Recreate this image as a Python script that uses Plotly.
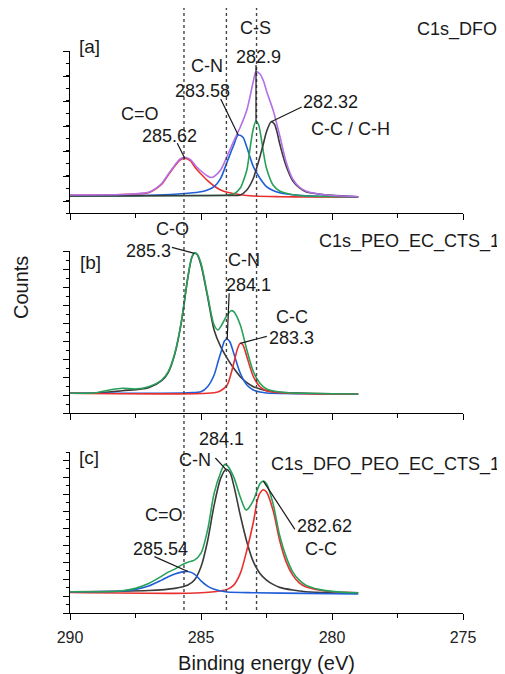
import plotly.graph_objects as go

# the page places the figure 8 px in from the window's top-left corner
OFF = 8
W, H = 505 - OFF, 674 - OFF

# ---------------- panel [a]  C1s_DFO ----------------
a_env_x = [290, 288, 287.5, 287, 286.75, 286.5, 286.25, 286, 285.8, 285.62, 285.4, 285.2, 285, 284.75,
           284.62, 284.5, 284.25, 284, 283.75, 283.5, 283.25, 283, 282.9, 282.75, 282.6, 282.5, 282.25,
           282, 281.75, 281.5, 281.25, 281, 280.5, 280, 279]
a_env_y = [1800, 1850, 1920, 2070, 2420, 2950, 3880, 4780, 5400, 5570, 5330, 4700, 4200, 3700,
           3550, 3650, 4300, 5700, 7200, 8600, 10300, 13200, 14130, 13900, 13100, 12200, 10300,
           7800, 5100, 3400, 2600, 2200, 1900, 1750, 1630]

a_co_x = [290, 288, 287.5, 287, 286.75, 286.5, 286.25, 286, 285.8, 285.62, 285.4, 285.2, 285, 284.75,
          284.5, 284.25, 284, 283.5, 283, 282, 281, 279]
a_co_y = [1770, 1840, 1900, 2030, 2370, 2870, 3800, 4700, 5300, 5470, 5200, 4470, 3900, 3230,
          2700, 2300, 2070, 1830, 1700, 1630, 1600, 1570]

a_cn_x = [290, 288, 287, 286, 285.5, 285, 284.75, 284.5, 284.25, 284, 283.75, 283.58, 283.4, 283.25,
          283, 282.75, 282.5, 282.25, 282, 281.5, 281, 280, 279]
a_cn_y = [1700, 1720, 1780, 1880, 1980, 2130, 2300, 2630, 3470, 5130, 6800, 7800, 7570, 6570,
          4630, 3470, 2630, 2250, 2030, 1830, 1730, 1670, 1630]

a_cs_x = [290, 285, 284, 283.75, 283.5, 283.4, 283.25, 283.1, 283, 282.9, 282.8, 282.7, 282.6, 282.5,
          282.25, 282, 281.75, 281.5, 281, 279]
a_cs_y = [1700, 1750, 1800, 1900, 2500, 3100, 4300, 6970, 8470, 9200, 8800, 7470, 5800, 4470,
          2800, 2200, 1970, 1830, 1700, 1630]

a_cc_x = [290, 284, 283.5, 283.25, 283, 282.9, 282.75, 282.6, 282.5, 282.32, 282.2, 282.1, 282,
          281.75, 281.5, 281.25, 281, 280.5, 280, 279]
a_cc_y = [1700, 1750, 1800, 2300, 3470, 4300, 5630, 7130, 8130, 9130, 8900, 8130, 6970,
          4700, 3230, 2530, 2130, 1900, 1770, 1630]

# ---------------- panel [b]  C1s_PEO_EC_CTS_1 ----------------
b_env_x = [290, 289, 288.5, 288, 287.5, 287, 286.5, 286.25, 286, 285.75, 285.5, 285.35, 285.25, 285.15,
           285, 284.75, 284.5, 284.35, 284.25, 284, 283.85, 283.75, 283.5, 283.25, 283, 282.75, 282.5,
           282, 281.5, 281, 280, 279]
b_env_y = [1970, 2030, 2300, 2470, 2400, 2630, 3300, 4130, 5970, 9130, 13630, 15600, 16000, 15900,
           14970, 11800, 8800, 8300, 8630, 9800, 10230, 10130, 8800, 6300, 4130, 2970, 2400,
           2100, 2000, 1970, 1930, 1900]

b_co_x = [290, 289, 288, 287, 286.5, 286.25, 286, 285.75, 285.5, 285.35, 285.25, 285.15, 285, 284.75,
          284.5, 284.25, 284, 283.75, 283.5, 283.25, 283, 282.75, 282.5, 282, 281, 279]
b_co_y = [1970, 2000, 2230, 2530, 3230, 4050, 5900, 9070, 13570, 15550, 15970, 15850, 14800, 11630,
          8300, 6630, 5470, 4470, 3630, 3030, 2630, 2400, 2230, 2070, 1970, 1900]

b_cn_x = [290, 285.5, 285, 284.75, 284.5, 284.35, 284.25, 284.1, 284, 283.9, 283.75, 283.5, 283.25,
          283, 282.75, 282.5, 281, 279]
b_cn_y = [1970, 2030, 2130, 2630, 3800, 5130, 5970, 7230, 7370, 7130, 5970, 3970, 2800,
          2300, 2100, 2000, 1930, 1900]

b_cc_x = [290, 284.5, 284.25, 284, 283.85, 283.75, 283.6, 283.5, 283.4, 283.25, 283, 282.75, 282.5,
          282, 281, 279]
b_cc_y = [1970, 2030, 2230, 2800, 3970, 4970, 6470, 6970, 6800, 5630, 3630, 2630, 2230,
          2030, 1930, 1900]

# ---------------- panel [c]  C1s_DFO_PEO_EC_CTS_1 ----------------
c_env_x = [290, 288.5, 288, 287.5, 287, 286.5, 286.25, 286, 285.75, 285.5, 285.25, 285, 284.75, 284.5,
           284.25, 284.1, 284, 283.75, 283.5, 283.3, 283.25, 283, 282.75, 282.62, 282.5, 282.25, 282,
           281.75, 281.5, 281.25, 281, 280.5, 280, 279.5, 279]
c_env_y = [2130, 2150, 2230, 2470, 2950, 3700, 4100, 4400, 4800, 5100, 5300, 6000, 8300, 12000,
           14100, 14900, 14800, 13630, 11630, 10370, 10350, 11300, 12970, 13230, 12970, 10970, 7800,
           5630, 4130, 3300, 2800, 2370, 2170, 2070, 2030]

c_cn_x = [290, 287, 286, 285.5, 285.25, 285, 284.75, 284.5, 284.25, 284.05, 283.9, 283.75, 283.5,
          283.25, 283, 282.75, 282.5, 282.25, 282, 281.5, 281, 280, 279]
c_cn_y = [2130, 2250, 2470, 2800, 3300, 4630, 7200, 10800, 13500, 14400, 14130, 12800, 9800,
          7130, 5130, 3970, 3300, 2870, 2570, 2300, 2130, 2030, 2000]

c_cc_x = [290, 286, 285, 284.5, 284, 283.75, 283.5, 283.25, 283, 282.85, 282.75, 282.62, 282.5,
          282.25, 282, 281.75, 281.5, 281.25, 281, 280.5, 280, 279.5, 279]
c_cc_y = [2050, 1970, 2030, 2130, 2370, 2800, 3970, 6300, 9130, 11300, 12030, 12370, 12130,
          10300, 7300, 5130, 3800, 3030, 2630, 2300, 2130, 2070, 2030]

c_co_x = [290, 288, 287.5, 287, 286.5, 286.25, 286, 285.75, 285.5, 285.25, 285, 284.75, 284.5,
          284.25, 284, 283, 281, 279]
c_co_y = [2130, 2200, 2370, 2700, 3300, 3630, 3900, 4100, 4170, 3900, 3230, 2700, 2370,
          2200, 2100, 2030, 1970, 1900]

# reference (dotted) lines, eV
ref_lines = [285.65, 284.03, 282.88]

x_ticks = [290, 285, 280, 275]

RED = '#e8312f'
BLUE = '#1f5ed8'
GREEN = '#27a05a'
BLACK = '#3a3a3a'
PURPLE = '#b46ee6'
FONT = 'Liberation Sans, Arial, sans-serif'
TXT = '#1a1a1a'

fig = go.Figure()


def add(xs, ys, color, xa, ya):
    fig.add_trace(go.Scatter(x=xs, y=ys, mode='lines',
                             line=dict(color=color, width=1.6, shape='spline', smoothing=0.8),
                             xaxis=xa, yaxis=ya, showlegend=False, hoverinfo='skip'))


add(a_co_x, a_co_y, RED, 'x', 'y')
add(a_cn_x, a_cn_y, BLUE, 'x', 'y')
add(a_cs_x, a_cs_y, GREEN, 'x', 'y')
add(a_cc_x, a_cc_y, BLACK, 'x', 'y')
add(a_env_x, a_env_y, PURPLE, 'x', 'y')

add(b_co_x, b_co_y, BLACK, 'x2', 'y2')
add(b_cn_x, b_cn_y, BLUE, 'x2', 'y2')
add(b_cc_x, b_cc_y, RED, 'x2', 'y2')
add(b_env_x, b_env_y, GREEN, 'x2', 'y2')

add(c_cn_x, c_cn_y, BLACK, 'x3', 'y3')
add(c_cc_x, c_cc_y, RED, 'x3', 'y3')
add(c_co_x, c_co_y, BLUE, 'x3', 'y3')
add(c_env_x, c_env_y, GREEN, 'x3', 'y3')


def px_x(px):
    return (px - OFF) / W


def px_y(py):
    return 1 - (py - OFF) / H


def peak(xs, ys):
    i = ys.index(max(ys))
    return xs[i], ys[i]


ann = []
LS = 18


def label(text, xr, yr, pt, dx, up, size=LS):
    ann.append(dict(text=text, xref=xr, yref=yr, x=pt[0], y=pt[1], xshift=dx, yshift=up,
                    showarrow=False, xanchor='center', yanchor='middle',
                    font=dict(family=FONT, size=size, color=TXT)))


def leader(xr, yr, pt, dx, up):
    ann.append(dict(text=' ', xref=xr, yref=yr, x=pt[0], y=pt[1], ax=dx, ay=-up,
                    showarrow=True, arrowhead=0, arrowwidth=1.2, arrowcolor=TXT,
                    standoff=0, startstandoff=0, borderpad=0, font=dict(size=1)))


# panel a
p = peak(a_co_x, a_co_y)
label('C=O', 'x', 'y', p, -45, 44); label('285.62', 'x', 'y', p, -15, 22); leader('x', 'y', p, -8, 16)
p = peak(a_cn_x, a_cn_y)
label('C-N', 'x', 'y', p, -31, 69); label('283.58', 'x', 'y', p, -36, 44); leader('x', 'y', p, -18, 37)
p = peak(a_cs_x, a_cs_y)
label('C-S', 'x', 'y', p, -1, 93); label('282.9', 'x', 'y', p, 2, 64); leader('x', 'y', p, 0, 57)
p = peak(a_cc_x, a_cc_y)
label('282.32', 'x', 'y', p, 59, 20); label('C-C / C-H', 'x', 'y', p, 79, -7); leader('x', 'y', p, 31, 15)

# panel b
p = peak(b_co_x, b_co_y)
label('C-O', 'x2', 'y2', p, -22, 24); label('285.3', 'x2', 'y2', p, -46, 2); leader('x2', 'y2', p, -23, 6)
p = peak(b_cn_x, b_cn_y)
label('C-N', 'x2', 'y2', p, 17, 79); label('284.1', 'x2', 'y2', p, 21, 54); leader('x2', 'y2', p, 2, 47)
p = peak(b_cc_x, b_cc_y)
label('C-C', 'x2', 'y2', p, 52, 26); label('283.3', 'x2', 'y2', p, 51, 5); leader('x2', 'y2', p, 27, 7)

# panel c
p = peak(c_cn_x, c_cn_y)
label('284.1', 'x3', 'y3', p, -4, 30); label('C-N', 'x3', 'y3', p, -31, 9); leader('x3', 'y3', p, -11, 12)
rx, _ = peak(c_cc_x, c_cc_y)
p = (rx, c_env_y[c_env_x.index(rx)])
label('282.62', 'x3', 'y3', p, 61, -45); label('C-C', 'x3', 'y3', p, 58, -68); leader('x3', 'y3', p, 32, -49)
p = peak(c_co_x, c_co_y)
label('C=O', 'x3', 'y3', p, -24, 56); label('285.54', 'x3', 'y3', p, -27, 22); leader('x3', 'y3', p, -34, 15)


# panel names and the shared y title
def paper_text(text, px, py, xanchor='center', size=LS, angle=0):
    ann.append(dict(text=text, xref='paper', yref='paper', x=px_x(px), y=px_y(py),
                    showarrow=False, xanchor=xanchor, yanchor='middle', textangle=angle,
                    font=dict(family=FONT, size=size, color=TXT)))


paper_text('[a]', 77, 46, 'left', size=19)
paper_text('C1s_DFO', 457, 29)
paper_text('[b]', 78, 263, 'left', size=19)
paper_text('C1s_PEO_EC_CTS_1', 502, 241, 'right')
paper_text('[c]', 77, 457, 'left', size=19)
paper_text('C1s_DFO_PEO_EC_CTS_1', 502, 464, 'right')
paper_text('Counts', 21, 288, size=20, angle=-90)

shapes = [dict(type='line', xref='x', yref='paper', x0=v, x1=v, y0=px_y(610), y1=px_y(8),
               line=dict(color='#444444', width=1.4, dash='dot'), layer='above')
          for v in ref_lines]

xdom = [px_x(70), px_x(463)]


def xaxis(anchor, labels):
    return dict(domain=xdom, anchor=anchor, range=[290, 275], autorange=False,
                tickmode='array', tickvals=x_ticks, showticklabels=labels,
                ticks='outside', ticklen=6, tickwidth=1.2, tickcolor='black',
                minor=dict(dtick=2.5, tick0=290, ticks='outside', ticklen=4, tickwidth=1.2,
                           tickcolor='black'),
                showline=True, linecolor='black', linewidth=1.3, showgrid=False, zeroline=False,
                automargin=False, ticklabelstandoff=4,
                tickfont=dict(family=FONT, size=16, color='#222'))


def yaxis(anchor, top, bot, rng, dt, t0):
    return dict(domain=[px_y(bot), px_y(top)], anchor=anchor, range=rng, autorange=False,
                dtick=dt, tick0=t0, showticklabels=False, automargin=False,
                ticks='outside', ticklen=6, tickwidth=1.2, tickcolor='black',
                minor=dict(dtick=dt / 2, ticks='outside', ticklen=3, tickwidth=1.1, tickcolor='black'),
                showline=True, linecolor='black', linewidth=1.3, showgrid=False, zeroline=False)


x3 = xaxis('y3', True)
x3['title'] = dict(text='Binding energy (eV)', font=dict(family=FONT, size=20, color=TXT), standoff=10)

fig.update_layout(
    width=W, height=H, autosize=False,
    margin=dict(l=0, r=0, t=0, b=0, pad=0, autoexpand=False),
    paper_bgcolor='white', plot_bgcolor='white',
    xaxis=xaxis('y', False), xaxis2=xaxis('y2', False), xaxis3=x3,
    yaxis=yaxis('x', 51, 213, [0, 16200], 2500, 1200),
    yaxis2=yaxis('x2', 251, 413, [0, 16200], 1800, 0),
    yaxis3=yaxis('x3', 452, 613, [0, 16150], 1700, 0),
    annotations=ann, shapes=shapes, showlegend=False,
)

fig.write_html('out.html')
